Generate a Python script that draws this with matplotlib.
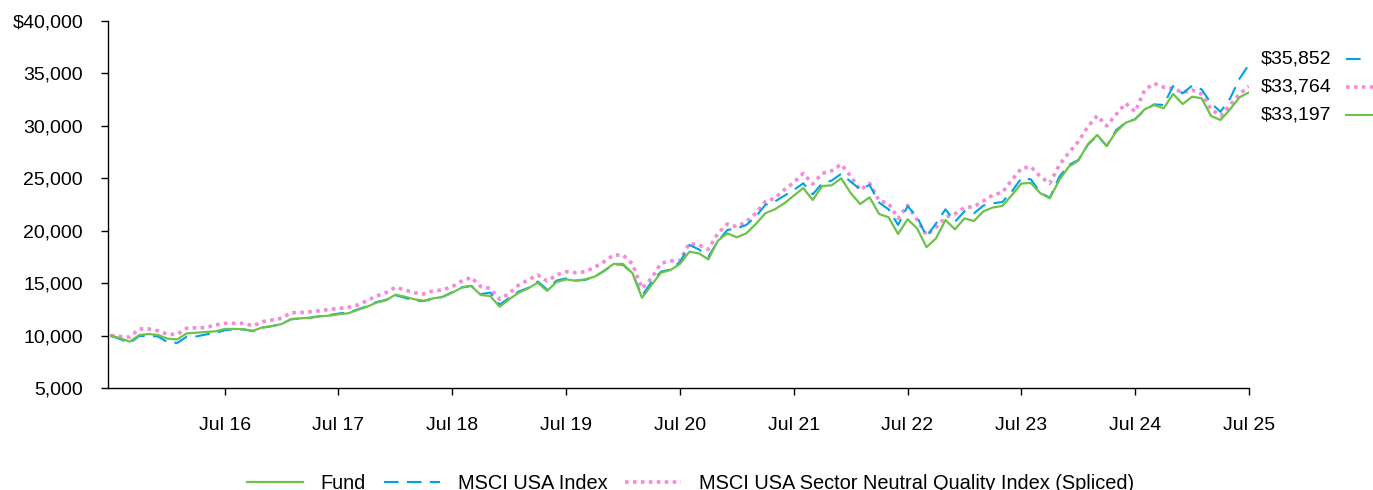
import matplotlib
matplotlib.use('Agg')
import matplotlib.pyplot as plt
from matplotlib.ticker import FuncFormatter
from matplotlib.lines import Line2D

plt.rcParams['font.family'] = ['Liberation Sans', 'DejaVu Sans']

# monthly values, Jul 2015 .. Jul 2025
fund = [10000, 9740, 9420, 10050, 10150, 10050, 9700, 9640, 10210, 10270, 10340, 10400,
        10630, 10630, 10600, 10460, 10790, 10910, 11100, 11580, 11640, 11700, 11830, 11900,
        12040, 12120, 12440, 12750, 13140, 13360, 13900, 13710, 13460, 13320, 13550, 13680,
        14090, 14570, 14730, 13870, 13770, 12750, 13460, 14090, 14500, 15040, 14270, 15110,
        15360, 15230, 15360, 15610, 16190, 16830, 16830, 15940, 13600, 14820, 16000, 16250,
        16830, 18000, 17840, 17270, 19050, 19750, 19370, 19750, 20640, 21660, 22040, 22610,
        23340, 24070, 22930, 24260, 24330, 25000, 23600, 22550, 23180, 21600, 21280, 19690,
        21090, 20230, 18430, 19270, 21020, 20130, 21180, 20930, 21850, 22220, 22360, 23400,
        24500, 24550, 23570, 23090, 24840, 26110, 26680, 28240, 29130, 28080, 29450, 30300,
        30620, 31580, 31990, 31670, 33040, 32080, 32780, 32630, 30940, 30560, 31580, 32720,
        33197]

msci_usa = [10000, 9650, 9300, 9960, 9980, 9900, 9350, 9300, 9890, 9920, 10100, 10250,
            10500, 10600, 10580, 10420, 10750, 10900, 11100, 11550, 11620, 11700, 11850, 11950,
            12100, 12200, 12480, 12800, 13200, 13400, 13850, 13600, 13350, 13280, 13550, 13700,
            14150, 14600, 14750, 13950, 14100, 12950, 13600, 14200, 14550, 15150, 14400, 15250,
            15450, 15250, 15300, 15600, 16150, 16800, 16750, 15900, 13800, 15100, 16100, 16300,
            17000, 18640, 18220, 17520, 19000, 20070, 20230, 20550, 21340, 22460, 22780, 23330,
            23880, 24520, 23470, 24520, 24780, 25420, 24680, 23950, 24360, 22680, 22040, 20550,
            22330, 21340, 19430, 20700, 22040, 20860, 21850, 21660, 22400, 22610, 22740, 23750,
            25000, 24900, 23630, 23150, 25150, 26270, 26740, 28180, 29070, 28080, 29600, 30300,
            30650, 31510, 32050, 31990, 33800, 33100, 33830, 33480, 32150, 31350, 32600, 34500,
            35852]

quality = [10000, 9920, 9860, 10630, 10630, 10440, 10120, 10120, 10700, 10740, 10760, 11000,
           11170, 11170, 11170, 10920, 11330, 11490, 11650, 12180, 12200, 12260, 12370, 12500,
           12580, 12690, 12910, 13320, 13770, 14090, 14600, 14350, 14090, 13960, 14280, 14350,
           14670, 15200, 15550, 14670, 14500, 13460, 14030, 14820, 15300, 15780, 15200, 15780,
           16100, 16000, 16090, 16510, 17040, 17680, 17680, 16830, 14500, 15460, 16890, 17110,
           17140, 18800, 18640, 18220, 19750, 20640, 20380, 20860, 21660, 22780, 23100, 23900,
           24600, 25470, 24450, 25470, 25720, 26330, 25220, 23880, 24520, 22870, 22610, 21180,
           22420, 21050, 19590, 20330, 21280, 21600, 22200, 22300, 22830, 23400, 23660, 24840,
           25940, 26110, 25150, 24520, 26270, 27440, 28490, 29920, 30970, 29990, 31100, 32150,
           31350, 33420, 34050, 33680, 33580, 33160, 33420, 33040, 31580, 30970, 31990, 33040,
           33764]

tick_labels = ['Jul 16', 'Jul 17', 'Jul 18', 'Jul 19', 'Jul 20',
               'Jul 21', 'Jul 22', 'Jul 23', 'Jul 24', 'Jul 25']
y_ticks = [5000, 10000, 15000, 20000, 25000, 30000, 35000, 40000]

GREEN = '#6cc24a'
BLUE = '#00a3e0'
PINK = '#f48ad8'


def yfmt(v, pos):
    if v == 40000:
        return f'${v:,.0f}'
    return f'{v:,.0f}'


def main():
    fig = plt.figure(figsize=(13.73, 4.90), dpi=100)
    ax = fig.add_axes([108/1373, 1-388/490, (1249-108)/1373, (388-21)/490])

    months = list(range(len(fund)))
    ax.plot(months, quality, color=PINK, lw=2.6, dashes=(1, 1.2))
    ax.plot(months, msci_usa, color=BLUE, lw=1.5, dashes=(7, 4))
    ax.plot(months, fund, color=GREEN, lw=1.6)

    ax.set_xlim(-0.3, 120)
    ax.set_ylim(5000, 40000)
    ax.set_xticks(range(12, 121, 12))
    ax.set_xticklabels(tick_labels)
    ax.set_yticks(y_ticks)
    ax.yaxis.set_major_formatter(FuncFormatter(yfmt))
    ax.tick_params(axis='both', labelsize=14, length=5, width=1, direction='out')
    ax.tick_params(axis='x', pad=16)
    ax.tick_params(axis='y', pad=13)
    for s in ['top', 'right']:
        ax.spines[s].set_visible(False)
    for s in ['left', 'bottom']:
        ax.spines[s].set_linewidth(1)

    # end values on the right
    ends = [(msci_usa[-1], BLUE, dict(dashes=(7, 4)), 59, 1365),
            (quality[-1], PINK, dict(dashes=(1, 1.2), lw=2.6), 87, 1373),
            (fund[-1], GREEN, dict(), 115, 1373)]
    for val, col, style, ypix, xend in ends:
        yf = 1 - ypix/490
        fig.text(1261/1373, yf, f'${val:,.0f}', fontsize=14, va='center', ha='left')
        kw = dict(color=col, lw=1.5)
        kw.update(style)
        fig.add_artist(Line2D([1346/1373, xend/1373], [yf, yf], transform=fig.transFigure, **kw))

    handles = [Line2D([], [], color=GREEN, lw=1.6),
               Line2D([], [], color=BLUE, lw=1.5, dashes=(7, 4)),
               Line2D([], [], color=PINK, lw=2.6, dashes=(1, 1.2))]
    labels = ['Fund', 'MSCI USA Index', 'MSCI USA Sector Neutral Quality Index (Spliced)']
    fig.legend(handles, labels, loc='center', bbox_to_anchor=(0.503, 0.014), ncol=3,
               frameon=False, fontsize=14.4, handlelength=2.8, handletextpad=0.9, columnspacing=0.9)

    fig.savefig('out.png', dpi=100)


if __name__ == '__main__':
    main()
